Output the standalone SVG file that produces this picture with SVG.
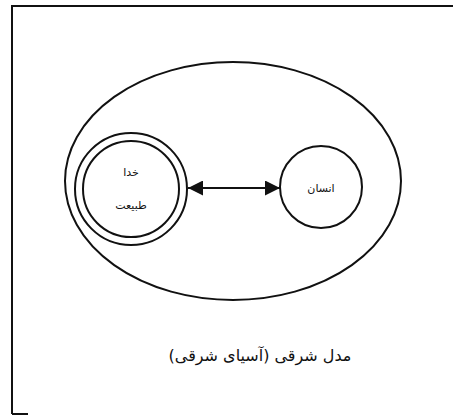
<svg xmlns="http://www.w3.org/2000/svg" width="453" height="418" viewBox="0 0 453 418">
<style>
.ln{fill:none;stroke:#111;stroke-width:2}
.t{font-family:"DejaVu Sans","Noto Sans",sans-serif;fill:#111;text-anchor:middle}
</style>
<defs>
<marker id="ah" viewBox="0 0 10 10" refX="10" refY="5" markerWidth="17" markerHeight="15" markerUnits="userSpaceOnUse" orient="auto-start-reverse">
<path d="M0,0 L10,5 L0,10 Z" fill="#111"/>
</marker>
</defs>
<rect width="453" height="418" fill="#fff"/>
<g id="frame">
<path class="ln" d="M12,414 L12,6 L453,6"/>
<path class="ln" d="M12,414 L28,414"/>
</g>
<g id="outer">
<ellipse class="ln" cx="233" cy="181" rx="168" ry="119"/>
</g>
<g id="god-nature">
<circle class="ln" cx="131" cy="189" r="56"/>
<circle class="ln" cx="131" cy="189" r="48"/>
<text class="t" x="131" y="176" font-size="11">خدا</text>
<text class="t" x="131" y="209" font-size="11">طبیعت</text>
</g>
<g id="human">
<circle class="ln" cx="321" cy="187" r="41"/>
<text class="t" x="321" y="192" font-size="11">انسان</text>
</g>
<g id="connectors">
<line class="ln" x1="188" y1="188" x2="280" y2="188" stroke-width="1.5" marker-start="url(#ah)" marker-end="url(#ah)"/>
</g>
<g id="caption">
<text class="t" x="260" y="361" font-size="16">مدل شرقی (آسیای شرقی)</text>
</g>
</svg>
